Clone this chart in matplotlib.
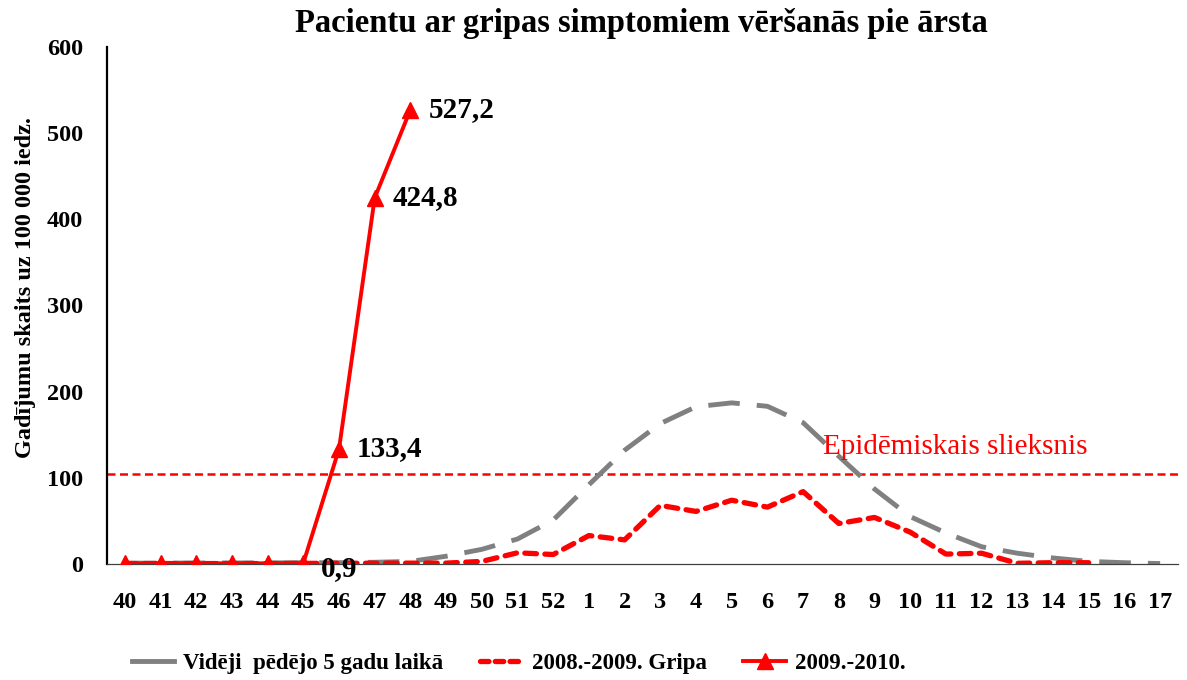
import matplotlib
matplotlib.use("Agg")
import matplotlib.pyplot as plt
from matplotlib.lines import Line2D

weeks = ["40", "41", "42", "43", "44", "45", "46", "47", "48", "49", "50", "51", "52",
         "1", "2", "3", "4", "5", "6", "7", "8", "9", "10", "11", "12", "13", "14", "15", "16", "17"]

avg5 = [1.0, 1.0, 1.2, 1.2, 1.3, 1.5, 1.5, 2.0, 3.0, 9.0, 17.0, 29.0, 51.0,
        92.0, 132.0, 163.0, 182.5, 187.0, 183.0, 164.0, 125.0, 87.0, 55.0, 36.0, 20.0, 12.5, 7.0, 3.0, 1.5, 0.5]

flu0809 = [0.5, 0.5, 0.5, 0.5, 0.5, 0.7, 0.8, 0.9, 1.0, 1.0, 3.0, 13.0, 11.0,
           33.0, 28.0, 68.0, 61.0, 74.0, 66.0, 84.0, 47.0, 54.0, 37.0, 11.5, 12.5, 0.8, 1.5, 1.5]

flu0910 = [0.6, 0.7, 0.8, 0.8, 0.8, 0.9, 133.4, 424.8, 527.2]
label_idx = [5, 6, 7, 8]
label_txt = ["0,9", "133,4", "424,8", "527,2"]

threshold = 104.0
threshold_txt = "Epidēmiskais slieksnis"

title = "Pacientu ar gripas simptomiem vēršanās pie ārsta"
ylabel = "Gadījumu skaits uz 100 000 iedz."
legend_labels = ["Vidēji  pēdējo 5 gadu laikā", "2008.-2009. Gripa", "2009.-2010."]

plt.rcParams['font.family'] = ['Liberation Serif', 'DejaVu Serif']

fig = plt.figure(figsize=(11.87, 6.8), dpi=100)
ax = fig.add_axes([0.0901, 0.1706, 0.9023, 0.7603])

x_all = list(range(len(weeks)))

ax.axhline(threshold, color="#ff0000", lw=1.8, dashes=(3.2, 1.8), zorder=1)

l1, = ax.plot(x_all, avg5, color="#808080", lw=3.5, dashes=(6.5, 3.5), zorder=2)
l2, = ax.plot(x_all[:len(flu0809)], flu0809, color="#ff0000", lw=3.8,
              dashes=(2.2, 1.6), dash_capstyle="round", zorder=3)
l3, = ax.plot(x_all[:len(flu0910)], flu0910, color="#ff0000", lw=2.8,
              marker="^", markersize=12, zorder=4)

for i, t in zip(label_idx, label_txt):
    dy = -4 if i == 5 else 0
    ax.annotate(t, (i, flu0910[i]), xytext=(13, dy), textcoords="offset points",
                ha="left", va="center", fontsize=21, fontweight="bold", color="black")

ax.text(19.55, 136, threshold_txt, color="#ff0000", fontsize=21, ha="left", va="center")

ax.set_xlim(-0.5, len(weeks) - 0.5)
ax.set_ylim(0, 600)
ax.set_yticks([0, 100, 200, 300, 400, 500, 600])
ax.set_xticks(x_all)
ax.set_xticklabels(weeks)
ax.tick_params(axis="both", length=0, labelsize=17.5)
ax.tick_params(axis="x", pad=20)
ax.tick_params(axis="y", pad=17)
for lab in ax.get_xticklabels() + ax.get_yticklabels():
    lab.set_fontweight("bold")

for s in ["top", "right"]:
    ax.spines[s].set_visible(False)
ax.spines["left"].set_linewidth(1.6)
ax.spines["bottom"].set_linewidth(0.9)
ax.spines["bottom"].set_color("#404040")

ax.set_ylabel(ylabel, fontsize=17.5, fontweight="bold")
ax.yaxis.set_label_coords(-0.0665, 0.535)
fig.text(0.54, 0.965, title, ha="center", va="center", fontsize=23.5, fontweight="bold")

h1 = Line2D([], [], color="#808080", lw=3.5)
h2 = Line2D([], [], color="#ff0000", lw=3.8, dashes=(1.6, 1.2), dash_capstyle="round")
h3 = Line2D([], [], color="#ff0000", lw=2.8, marker="^", markersize=12)
leg = fig.legend([h1, h2, h3], legend_labels, loc="center", bbox_to_anchor=(0.437, 0.025),
                 ncol=3, frameon=False, prop={"size": 16.5, "weight": "bold"},
                 handlelength=1.85, columnspacing=1.6, handletextpad=0.4)

fig.savefig("out.png", dpi=100)
